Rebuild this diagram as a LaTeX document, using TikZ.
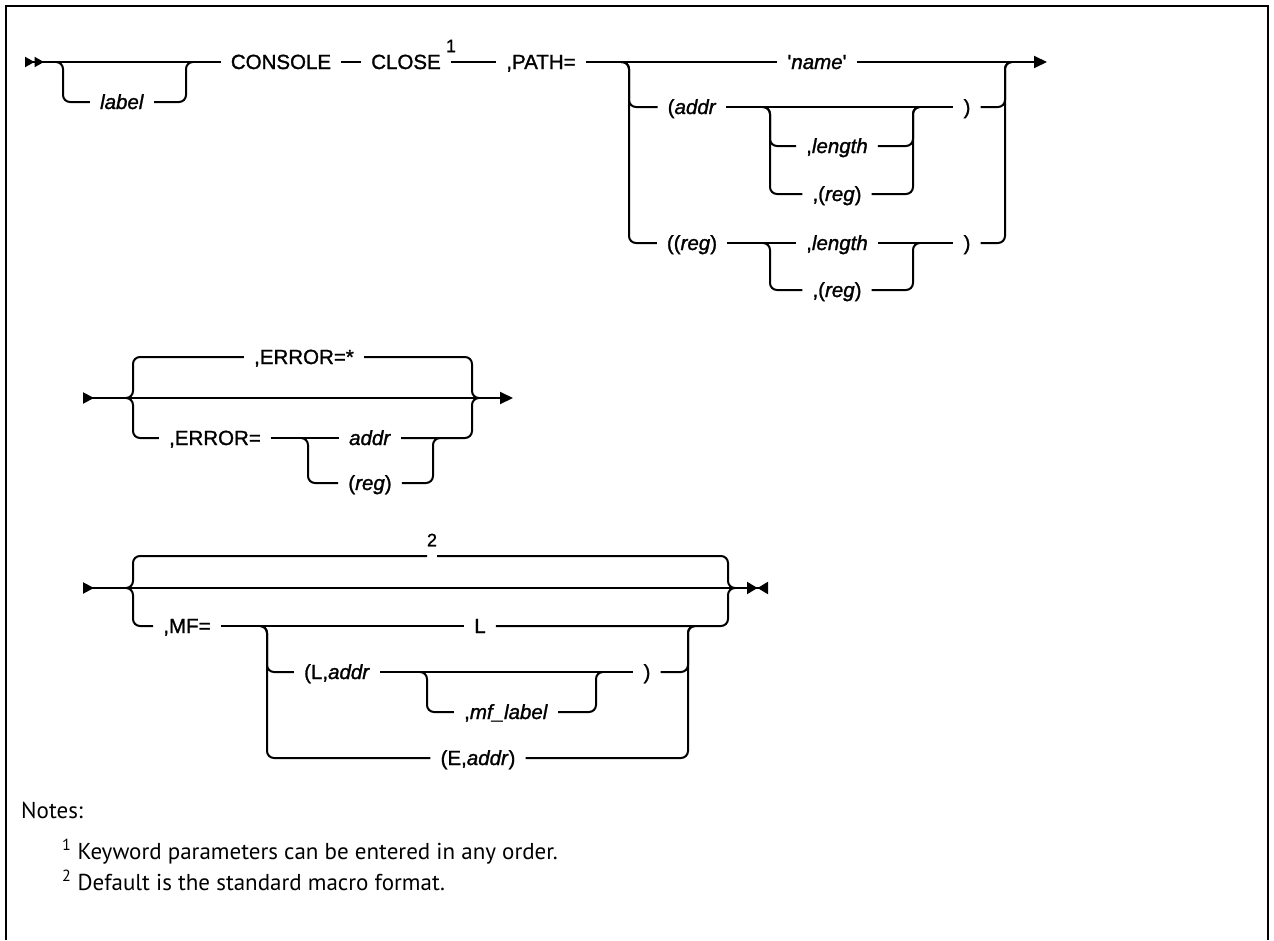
\documentclass[tikz,border=0pt]{standalone}
\usepackage{fontspec}
\setmainfont{Liberation Sans}
\newfontfamily\railfamily{Liberation Sans}[BoldFont=Liberation Sans,BoldFeatures={FakeBold=1.3},
  BoldItalicFont=Liberation Sans Italic,BoldItalicFeatures={FakeBold=1.3}]
\newfontfamily\notefamily{PT Sans}
\usetikzlibrary{arrows.meta,positioning}
\newcommand{\railfont}{\railfamily\bfseries\fontsize{20.5}{24}\selectfont}
\newcommand{\notefont}{\notefamily\fontsize{23}{28}\selectfont}

\begin{document}
\begin{tikzpicture}[x=1pt,y=-1pt,
  rail/.style={line width=2pt,rounded corners=7pt},
  kw/.style={font=\railfont,inner xsep=10pt,inner ysep=0pt,text height=18pt,text depth=4pt},
  fn/.style={font=\railfamily\bfseries\fontsize{18}{20}\selectfont,inner sep=0pt},
  note/.style={font=\notefont,anchor=west,inner sep=0pt},
  frame/.style={line width=2.5pt}]
  \useasboundingbox (0,0) rectangle (1274,940);
  \draw[frame] (6,940) |- (1268,6) -- (1268,940);

  % first line
  \coordinate (start1) at (25,62);
  \coordinate (lblin) at (56,62);
  \coordinate (lblout) at (193,62);
  \node[kw] (lbl) at (122,102) {\textit{label}};
  \node[kw] (console) at (281,62) {CONSOLE};
  \node[kw] (close) at (406,62) {CLOSE};
  \node[fn] (fn1) at (451,46) {1};
  \node[kw] (path) at (541,62) {,PATH=};
  \node[kw] (name) at (817,62) {'\textit{name}'};
  \coordinate (end1) at (1047,62);
  \draw[rail,{Triangle[reversed,length=9.5pt,width=10pt,sep=0pt]Triangle[reversed,length=9.5pt,width=10pt]}-] (start1) -- (console);
  \draw[rail] (console) -- (close);
  \draw[rail] (close) -- (path);
  \draw[rail] (path) -- (name);
  \draw[rail,-{Triangle[length=13pt,width=12pt]}] (name) -- (end1);
  \draw[rail] (lblin) -| +(7,40) -- (lbl);
  \draw[rail] (lbl) -| ([xshift=-7pt]lblout) -- (lblout);

  % path choices
  \coordinate (p0) at (621,62);
  \coordinate (p1) at (1012,62);
  \node[kw] (addr) at (692,107) {(\textit{addr}};
  \node[kw] (plen) at (837,146) {,\textit{length}};
  \node[kw] (preg) at (837,194) {,(\textit{reg})};
  \node[kw] (pclose) at (967,107) {)};
  \node[kw] (rreg) at (692,243) {((\textit{reg})};
  \node[kw] (rlen) at (837,243) {,\textit{length}};
  \node[kw] (rreg2) at (837,290) {,(\textit{reg})};
  \node[kw] (rclose) at (967,243) {)};
  \draw[rail] (p0) -| +(8,45) -- (addr);
  \draw[rail] (p0) -| +(8,181) -- (rreg);
  \draw[rail] (addr) -- (pclose);
  \draw[rail] (pclose) -| ([xshift=-7pt]p1) -- (p1);
  \draw[rail] (rreg) -- (rlen) -- (rclose);
  \draw[rail] (rclose) -| ([xshift=-7pt]p1) -- (p1);
  \coordinate (a0) at (763,107);
  \coordinate (a1) at (920,107);
  \draw[rail] (a0) -| +(7,39) -- (plen);
  \draw[rail] (a0) -| +(7,87) -- (preg);
  \draw[rail] (plen) -| ([xshift=-7pt]a1) -- (a1);
  \draw[rail] (preg) -| ([xshift=-7pt]a1) -- (a1);
  \coordinate (b0) at (763,243);
  \coordinate (b1) at (920,243);
  \draw[rail] (b0) -| +(7,47) -- (rreg2);
  \draw[rail] (rreg2) -| ([xshift=-7pt]b1) -- (b1);

  % error line
  \coordinate (start2) at (83,398);
  \coordinate (e0) at (126,398);
  \coordinate (e1) at (479,398);
  \coordinate (end2) at (513,398);
  \node[kw] (errdef) at (304,357) {,ERROR=*};
  \node[kw] (errkw) at (215,438) {,ERROR=};
  \node[kw] (eaddr) at (370,438) {\textit{addr}};
  \node[kw] (ereg) at (370,483) {(\textit{reg})};
  \draw[rail,{Triangle[reversed,length=11pt,width=11pt]}-{Triangle[length=13pt,width=12pt]}] (start2) -- (end2);
  \draw[rail] (e0) -| +(7,-41) -- (errdef);
  \draw[rail] (errdef) -| ([xshift=-7pt]e1) -- (e1);
  \draw[rail] (e0) -| +(7,40) -- (errkw);
  \draw[rail] (errkw) -- (eaddr);
  \draw[rail] (eaddr) -| ([xshift=-7pt]e1) -- (e1);
  \coordinate (f0) at (301,438);
  \coordinate (f1) at (440,438);
  \draw[rail] (f0) -| +(7,45) -- (ereg);
  \draw[rail] (ereg) -| ([xshift=-7pt]f1) -- (f1);

  % mf line
  \coordinate (start3) at (83,588);
  \coordinate (m0) at (126,588);
  \coordinate (m1) at (735,588);
  \coordinate (end3) at (768,588);
  \coordinate (gapL) at (427,556);
  \coordinate (gapR) at (437,556);
  \node[fn] (fn2) at (432,540) {2};
  \draw[rail,{Triangle[reversed,length=11pt,width=11pt]}-{Triangle[length=10.5pt,width=12pt,sep=0pt]Triangle[reversed,length=10.5pt,width=12pt]}] (start3) -- (end3);
  \draw[rail] (m0) -| +(7,-32) -- (gapL);
  \draw[rail] (gapR) -| ([xshift=-7pt]m1) -- (m1);
  \node[kw] (mfkw) at (187,626) {,MF=};
  \node[kw] (mfl) at (480,626) {L};
  \draw[rail] (m0) -| +(7,38) -- (mfkw);
  \draw[rail] (mfkw) -- (mfl);
  \draw[rail] (mfl) -| ([xshift=-7pt]m1) -- (m1);
  \coordinate (q0) at (260,626);
  \coordinate (q1) at (695,626);
  \node[kw] (laddr) at (337,672) {(L,\textit{addr}};
  \node[kw] (lclose) at (647,672) {)};
  \node[kw] (mflab) at (506,712) {,\textit{mf\_label}};
  \node[kw] (eaddr2) at (478,758) {(E,\textit{addr})};
  \draw[rail] (q0) -| +(7,46) -- (laddr);
  \draw[rail] (q0) -| +(7,132) -- (eaddr2);
  \draw[rail] (laddr) -- (lclose);
  \draw[rail] (lclose) -| ([xshift=-7pt]q1) -- (q1);
  \draw[rail] (eaddr2) -| ([xshift=-7pt]q1) -- (q1);
  \coordinate (o0) at (420,672);
  \coordinate (o1) at (603,672);
  \draw[rail] (o0) -| +(7,40) -- (mflab);
  \draw[rail] (mflab) -| ([xshift=-7pt]o1) -- (o1);

  % notes
  \node[note] (notes) at (21,810) {Notes:};
  \node[note] (note1) at (62,852) {\textsuperscript{1} Keyword parameters can be entered in any order.};
  \node[note,below=5pt of note1.south west,anchor=north west] (note2) {\textsuperscript{2} Default is the standard macro format.};
\end{tikzpicture}
\end{document}
